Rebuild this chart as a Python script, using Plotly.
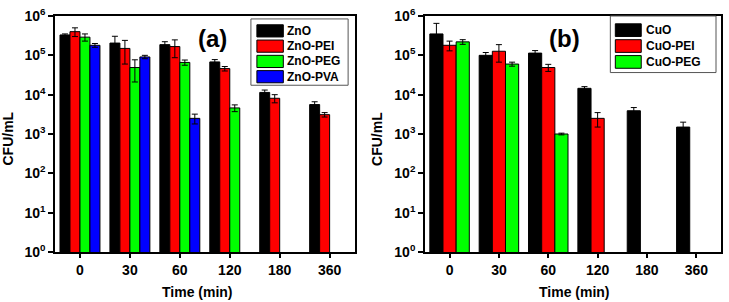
import plotly.graph_objects as go
from plotly.subplots import make_subplots

# ---------------- data ----------------
times = ["0", "30", "60", "120", "180", "360"]

zno_names = ["ZnO", "ZnO-PEI", "ZnO-PEG", "ZnO-PVA"]
zno = [3.3e5, 2.05e5, 1.87e5, 6.8e4, 1.14e4, 5.6e3]
zno_err = [0.2e5, 1.0e5, 0.35e5, 1.0e4, 1.7e3, 1.0e3]
zno_pei = [4.0e5, 1.5e5, 1.67e5, 4.6e4, 8.1e3, 3.1e3]
zno_pei_err = [1.0e5, 0.9e5, 0.8e5, 0.6e4, 1.9e3, 0.4e3]
zno_peg = [2.9e5, 4.9e4, 6.6e4, 4.6e3, None, None]
zno_peg_err = [0.6e5, 2.8e4, 1.0e4, 0.9e3, None, None]
zno_pva = [1.8e5, 9.1e4, 2.5e3, None, None, None]
zno_pva_err = [0.2e5, 0.9e4, 0.7e3, None, None, None]

cuo_names = ["CuO", "CuO-PEI", "CuO-PEG"]
cuo = [3.5e5, 1.0e5, 1.14e5, 1.45e4, 3.9e3, 1.5e3]
cuo_err = [3.0e5, 0.18e5, 0.18e5, 0.15e4, 0.8e3, 0.5e3]
cuo_pei = [1.8e5, 1.27e5, 4.9e4, 2.5e3, None, None]
cuo_pei_err = [0.5e5, 0.6e5, 1.0e4, 1.0e3, None, None]
cuo_peg = [2.2e5, 6.0e4, 1.0e3, None, None, None]
cuo_peg_err = [0.3e5, 0.7e4, 0.05e3, None, None, None]

y_tick_vals = [1, 10, 100, 1e3, 1e4, 1e5, 1e6]
y_tick_text = ["10<sup>%d</sup>" % i for i in range(7)]

colors_a = ["#000000", "#ff0000", "#00ff00", "#0000ff"]
colors_b = ["#000000", "#ff0000", "#00ff00"]

# ---------------- layout geometry (pixels) ----------------
W, H = 729, 302
ML, MR, MT, MB = 55, 6, 10, 50
PW = W - ML - MR
PH = H - MT - MB
FONT = "Liberation Sans, Arial, sans-serif"


def px(x):
    return (x - ML) / PW


def py(y):
    return (H - MB - y) / PH


fig = make_subplots(rows=1, cols=2, horizontal_spacing=0.0)
fig.update_layout(
    xaxis=dict(domain=[0, 300.5 / PW]),
    xaxis2=dict(domain=[(426 - ML) / PW, 1]),
)

series_a = [(zno, zno_err), (zno_pei, zno_pei_err), (zno_peg, zno_peg_err), (zno_pva, zno_pva_err)]
series_b = [(cuo, cuo_err), (cuo_pei, cuo_pei_err), (cuo_peg, cuo_peg_err)]

for (vals, errs), name, c in zip(series_a, zno_names, colors_a):
    fig.add_trace(go.Bar(
        x=times, y=vals, name=name, marker=dict(color=c, line=dict(color="black", width=1)),
        error_y=dict(type="data", array=errs, color="black", thickness=1, width=3),
        showlegend=False), row=1, col=1)

for (vals, errs), name, c in zip(series_b, cuo_names, colors_b):
    fig.add_trace(go.Bar(
        x=times, y=vals, name=name, marker=dict(color=c, line=dict(color="black", width=1)),
        error_y=dict(type="data", array=errs, color="black", thickness=1, width=3),
        showlegend=False), row=1, col=2)

tickfont = dict(family=FONT, size=14, color="black", weight="bold")
for i in (1, 2):
    fig.update_xaxes(type="category", range=[-0.5, 5.5], showline=True, linecolor="black",
                     linewidth=1.5, mirror=True, ticks="outside", ticklen=4, tickwidth=1.5,
                     tickcolor="black", tickfont=tickfont, showgrid=False, row=1, col=i)
    fig.update_yaxes(type="log", range=[0, 6], tickvals=y_tick_vals, ticktext=y_tick_text,
                     showline=True, linecolor="black", linewidth=1.5, mirror=True,
                     ticks="outside", ticklen=5, tickwidth=1.5, tickcolor="black",
                     tickfont=tickfont, showgrid=False, zeroline=False, row=1, col=i)

fig.update_layout(
    width=W, height=H, margin=dict(l=ML, r=MR, t=MT, b=MB, pad=0),
    barmode="group", bargap=0.2, bargroupgap=0,
    plot_bgcolor="white", paper_bgcolor="white",
    font=dict(family=FONT, color="black"),
)

annots = []
shapes = []
# axis titles
for xc in (197.5, 576.5):
    annots.append(dict(x=px(xc), y=py(293), xref="paper", yref="paper", text="Time (min)",
                       showarrow=False, font=dict(family=FONT, size=14, weight="bold"),
                       xanchor="center", yanchor="middle"))
for xc in (7.5, 378):
    annots.append(dict(x=px(xc), y=py(136), xref="paper", yref="paper", text="CFU/mL",
                       textangle=-90, showarrow=False, font=dict(family=FONT, size=14, weight="bold"),
                       xanchor="center", yanchor="middle"))
# panel labels
annots.append(dict(x=px(213), y=py(33), xref="paper", yref="paper", text="(a)", showarrow=False,
                   font=dict(family=FONT, size=24, weight="bold"), xanchor="center", yanchor="middle"))
annots.append(dict(x=px(566), y=py(33), xref="paper", yref="paper", text="(b)", showarrow=False,
                   font=dict(family=FONT, size=24, weight="bold"), xanchor="center", yanchor="middle"))


def legend(names, colors, box, sw_x0, sw_x1, row_y0, pitch, sh, tx):
    bx0, by0, bx1, by1 = box
    shapes.append(dict(type="rect", xref="paper", yref="paper", x0=px(bx0), x1=px(bx1),
                       y0=py(by0), y1=py(by1), line=dict(color="#555555", width=1),
                       fillcolor="white", layer="above"))
    for k, (n, c) in enumerate(zip(names, colors)):
        y0 = row_y0 + k * pitch
        shapes.append(dict(type="rect", xref="paper", yref="paper", x0=px(sw_x0), x1=px(sw_x1),
                           y0=py(y0), y1=py(y0 + sh), line=dict(color="black", width=1),
                           fillcolor=c, layer="above"))
        annots.append(dict(x=px(tx), y=py(y0 + sh / 2), xref="paper", yref="paper", text=n,
                           showarrow=False, font=dict(family=FONT, size=12, weight="bold"),
                           xanchor="left", yanchor="middle"))


legend(zno_names, colors_a, (251.5, 13, 349, 81), 257.5, 284, 19, 15.67, 12.5, 286)
legend(cuo_names, colors_b, (612, 10, 718, 68), 617, 643, 18, 16.3, 13, 646)

fig.update_layout(annotations=annots, shapes=shapes)
fig.write_html("out.html", config={"displayModeBar": False},
               post_script="document.body.style.margin='0';")
